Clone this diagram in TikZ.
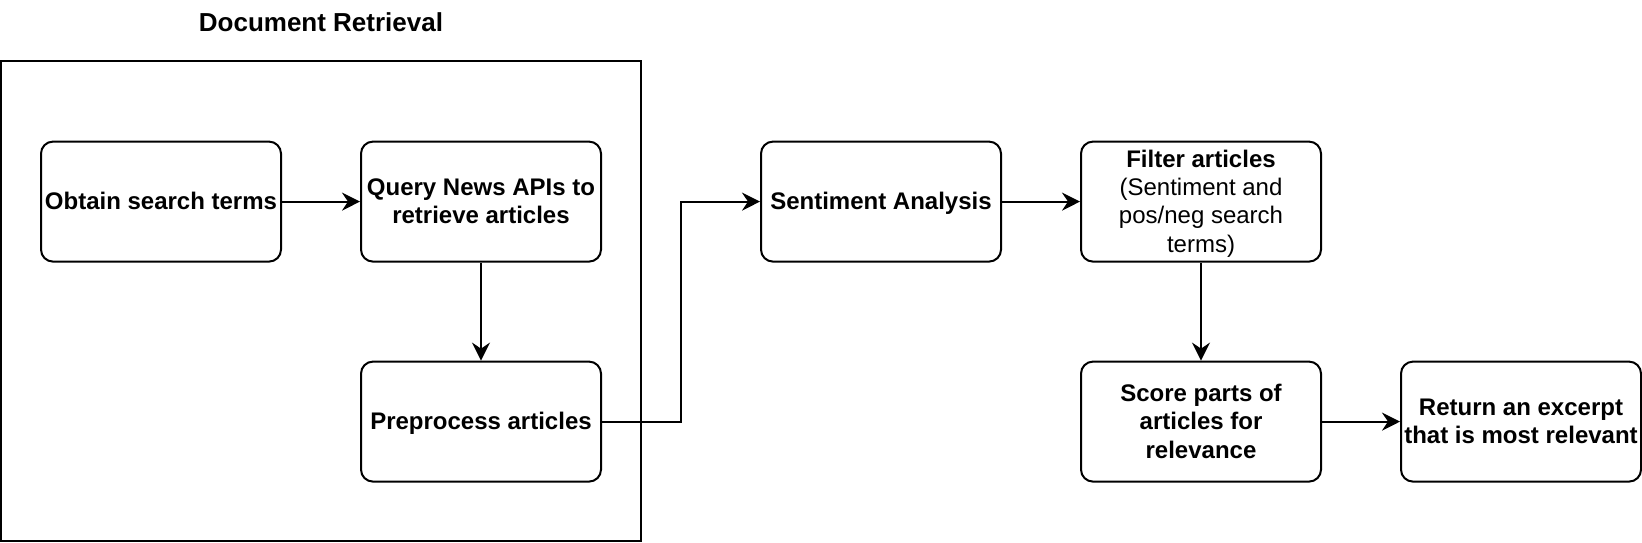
\documentclass[tikz,border=0pt]{standalone}
\usepackage{fontspec}
\setmainfont{Liberation Sans}
\usetikzlibrary{arrows.meta,calc}
\newcommand{\boxlines}[1]{\raisebox{-1.2pt}[\height][\depth]{\begin{tabular}{@{}c@{}}#1\end{tabular}}}
\tikzset{
  stepbox/.style={draw=black, line width=1pt, rounded corners=6pt, minimum width=120pt, minimum height=60pt, inner sep=0pt, font=\fontsize{12}{14.2}\selectfont\bfseries, fill=white},
  arr/.style={draw=black, line width=1pt, -{Stealth[length=9pt,width=9pt,inset=3pt]}},
  frame/.style={draw=black, line width=1pt},
  titletext/.style={font=\fontsize{13}{16}\selectfont\bfseries, inner sep=0pt}
}
\begin{document}
\begin{tikzpicture}[x=1pt,y=-1pt]
\useasboundingbox (0,0) rectangle (821,271);
\draw[frame] (0.5,30.5) rectangle (320.5,270.5);
\node[titletext] (title) at (160.5,11) {Document Retrieval};
\node[stepbox] (obtain) at (80.5,100.8) {\boxlines{Obtain search terms}};
\node[stepbox] (query) at (240.5,100.8) {\boxlines{Query News APIs to\\retrieve articles}};
\node[stepbox] (pre) at (240.5,210.8) {\boxlines{Preprocess articles}};
\node[stepbox] (sent) at (440.5,100.8) {\boxlines{Sentiment Analysis}};
\node[stepbox] (filter) at (600.5,100.8) {\boxlines{Filter articles\\\mdseries (Sentiment and\\\mdseries pos/neg search\\\mdseries terms)}};
\node[stepbox] (score) at (600.5,210.8) {\boxlines{Score parts of\\articles for\\relevance}};
\node[stepbox] (ret) at (760.5,210.8) {\boxlines{Return an excerpt\\that is most relevant}};
\coordinate (mid) at ($(pre.east)!0.5!(sent.west)$);
\draw[arr] (obtain.east) -- (query.west);
\draw[arr] (query.south) -- (pre.north);
\draw[arr] (pre.east) -| (mid) |- (sent.west);
\draw[arr] (sent.east) -- (filter.west);
\draw[arr] (filter.south) -- (score.north);
\draw[arr] (score.east) -- (ret.west);
\end{tikzpicture}
\end{document}
